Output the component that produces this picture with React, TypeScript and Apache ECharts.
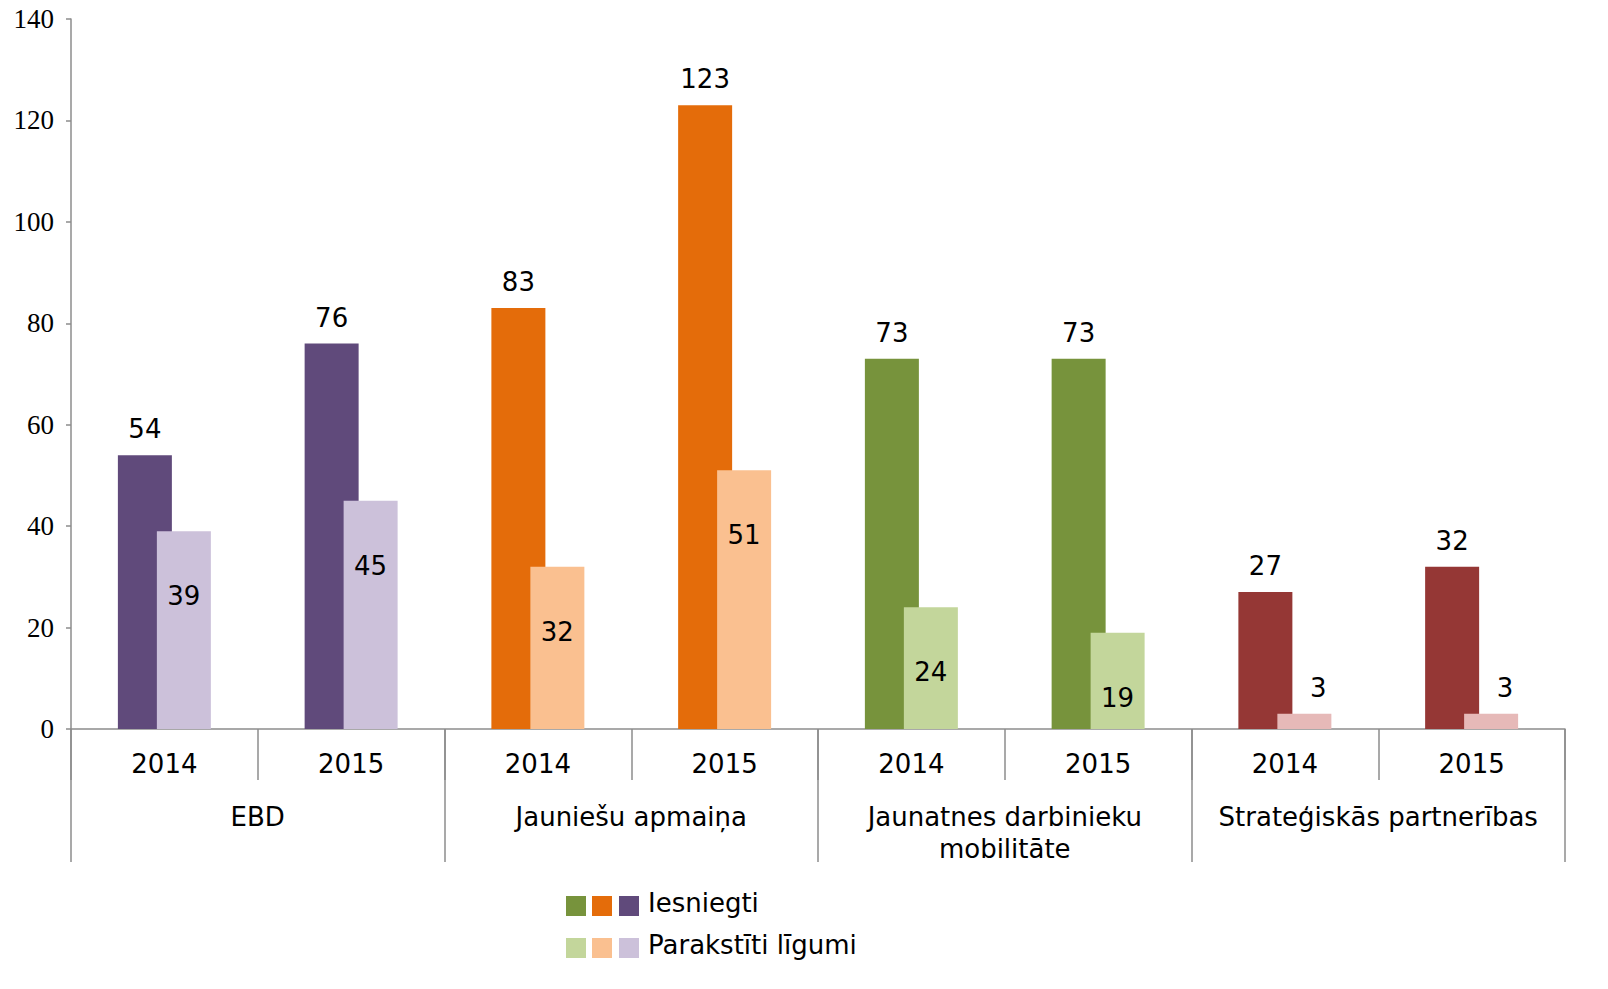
import React, { useEffect, useRef } from "react";
import * as echarts from "echarts";

const groups = ["EBD", "Jauniešu apmaiņa", "Jaunatnes darbinieku\nmobilitāte", "Strateģiskās partnerības"];
const years = ["2014", "2015", "2014", "2015", "2014", "2015", "2014", "2015"];
const submitted = [54, 76, 83, 123, 73, 73, 27, 32];
const signed = [39, 45, 32, 51, 24, 19, 3, 3];
const yTicks = { min: 0, max: 140, interval: 20 };

const darkColors = ["#604A7B", "#E46C0A", "#77933C", "#953735"];
const lightColors = ["#CCC1DA", "#FAC090", "#C3D69B", "#E6B9B8"];

const SANS = "DejaVu Sans, Verdana, sans-serif";
const SERIF = "Liberation Serif, Times New Roman, serif";
const AXIS_GRAY = "#8C8C8C";
const FS = 26;

export default function App() {
  const ref = useRef<HTMLDivElement>(null);
  useEffect(() => {
    if (!ref.current) return;
    const chart = echarts.init(ref.current, undefined, { renderer: "svg" });
    const groupOf = (i: number) => Math.floor(i / 2);
    const option: any = {
      animation: false,
      backgroundColor: "#ffffff",
      grid: { left: 71, right: 43, top: 19, bottom: 260, containLabel: false },
      xAxis: [
        {
          type: "category",
          data: years,
          position: "bottom",
          axisLine: { show: true, lineStyle: { color: AXIS_GRAY, width: 1.5 } },
          axisTick: { show: true, length: 51, lineStyle: { color: AXIS_GRAY, width: 1.5 } },
          axisLabel: { interval: 0, margin: 22, color: "#000", fontFamily: SANS, fontSize: FS },
        },
        {
          type: "category",
          data: groups,
          position: "bottom",
          axisLine: { show: false },
          axisTick: { show: true, length: 133, lineStyle: { color: AXIS_GRAY, width: 1.5 } },
          axisLabel: {
            interval: 0,
            margin: 72,
            color: "#000",
            fontFamily: SANS,
            fontSize: FS,
            lineHeight: 32,
            verticalAlign: "top",
          },
        },
      ],
      yAxis: {
        type: "value",
        min: yTicks.min,
        max: yTicks.max,
        interval: yTicks.interval,
        axisLine: { show: true, lineStyle: { color: AXIS_GRAY, width: 1.5 } },
        axisTick: { show: true, length: 5, lineStyle: { color: AXIS_GRAY, width: 1.5 } },
        splitLine: { show: false },
        axisLabel: { margin: 17, color: "#000", fontFamily: SERIF, fontSize: 27 },
      },
      series: [
        {
          name: "Iesniegti",
          type: "bar",
          xAxisIndex: 0,
          barWidth: 54,
          barGap: "-27.8%",
          data: submitted.map((v, i) => ({ value: v, itemStyle: { color: darkColors[groupOf(i)] } })),
          label: {
            show: true,
            position: "top",
            distance: 13,
            color: "#000",
            fontFamily: SANS,
            fontSize: FS,
          },
        },
        {
          name: "Parakstīti līgumi",
          type: "bar",
          xAxisIndex: 0,
          barWidth: 54,
          barGap: "-27.8%",
          data: signed.map((v, i) => ({
            value: v,
            itemStyle: { color: lightColors[groupOf(i)] },
            label: v < 10 ? { position: "top", distance: 13, offset: [14, 0] } : { position: "insideTop", distance: 52 },
          })),
          label: {
            show: true,
            color: "#000",
            fontFamily: SANS,
            fontSize: FS,
          },
        },
      ],
      graphic: [
        { type: "rect", left: 566, top: 896, shape: { width: 20, height: 20 }, style: { fill: darkColors[2] } },
        { type: "rect", left: 592, top: 896, shape: { width: 20, height: 20 }, style: { fill: darkColors[1] } },
        { type: "rect", left: 619, top: 896, shape: { width: 20, height: 20 }, style: { fill: darkColors[0] } },
        {
          type: "text",
          left: 648,
          top: 890,
          style: { text: "Iesniegti", fill: "#000", font: `${FS}px ${SANS}` },
        },
        { type: "rect", left: 566, top: 938, shape: { width: 20, height: 20 }, style: { fill: lightColors[2] } },
        { type: "rect", left: 592, top: 938, shape: { width: 20, height: 20 }, style: { fill: lightColors[1] } },
        { type: "rect", left: 619, top: 938, shape: { width: 20, height: 20 }, style: { fill: lightColors[0] } },
        {
          type: "text",
          left: 648,
          top: 932,
          style: { text: "Parakstīti līgumi", fill: "#000", font: `${FS}px ${SANS}` },
        },
      ],
    };
    chart.setOption(option);
    return () => chart.dispose();
  }, []);
  return (
    <div
      ref={ref}
      style={{ position: "fixed", left: 0, top: 0, width: 1608, height: 989, background: "#fff" }}
    />
  );
}
